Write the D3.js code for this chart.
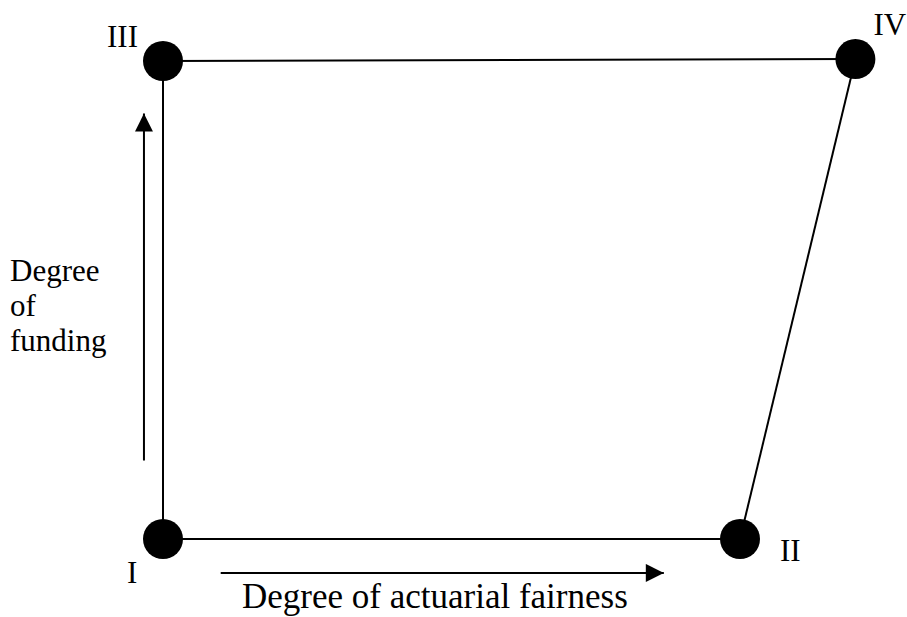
<!DOCTYPE html>
<html>
<head>
<meta charset="utf-8">
<script src="https://cdn.jsdelivr.net/npm/d3@7"></script>
<style>
  body { margin: 0; background: #fff; }
</style>
</head>
<body>
<div id="chart"></div>
<script>
// regimes, placed by degree of actuarial fairness (x) and degree of funding (y)
var nodeNames = ["I", "II", "III", "IV"];
var fairness = [0, 1, 0, 1.2];
var funding = [0, 0, 1, 1.004];
var edges = [["I", "II"], ["I", "III"], ["III", "IV"], ["II", "IV"]];

var axisTitles = ["Degree of actuarial fairness", "Degree of funding"];
var fundingTitleLines = ["Degree", "of", "funding"];

var width = 907, height = 617;
var serif = "'Liberation Serif', 'Times New Roman', Tinos, 'DejaVu Serif', serif";

var svg = d3.select("#chart")
  .append("svg")
  .attr("width", width)
  .attr("height", height)
  .style("font-family", serif);

var x = d3.scaleLinear().domain([0, 1]).range([163, 740]);
var y = d3.scaleLinear().domain([0, 1]).range([539, 61]);

var nodes = nodeNames.map(function(n, i) {
  return { name: n, fx: fairness[i], fy: funding[i] };
});
var byName = {};
nodes.forEach(function(d) { byName[d.name] = d; });

// arrowhead
svg.append("defs")
  .append("marker")
  .attr("id", "head")
  .attr("viewBox", "0 0 10 10")
  .attr("refX", 10)
  .attr("refY", 5)
  .attr("markerUnits", "userSpaceOnUse")
  .attr("markerWidth", 21)
  .attr("markerHeight", 18)
  .attr("orient", "auto")
  .append("path")
  .attr("d", "M0,0 L10,5 L0,10 Z")
  .attr("fill", "#000");

// edges
svg.selectAll("line.edge")
  .data(edges)
  .enter()
  .append("line")
  .attr("class", "edge")
  .attr("x1", function(d) { return x(byName[d[0]].fx); })
  .attr("y1", function(d) { return y(byName[d[0]].fy); })
  .attr("x2", function(d) { return x(byName[d[1]].fx); })
  .attr("y2", function(d) { return y(byName[d[1]].fy); })
  .attr("stroke", "#000")
  .attr("stroke-width", 2);

// direction arrows
svg.append("line")
  .attr("x1", x(0.1)).attr("y1", y(-0.071))
  .attr("x2", x(0.868)).attr("y2", y(-0.071))
  .attr("stroke", "#000")
  .attr("stroke-width", 2)
  .attr("marker-end", "url(#head)");

svg.append("line")
  .attr("x1", x(-0.033)).attr("y1", y(0.164))
  .attr("x2", x(-0.033)).attr("y2", y(0.89))
  .attr("stroke", "#000")
  .attr("stroke-width", 2)
  .attr("marker-end", "url(#head)");

// nodes
svg.selectAll("circle.node")
  .data(nodes)
  .enter()
  .append("circle")
  .attr("class", "node")
  .attr("cx", function(d) { return x(d.fx); })
  .attr("cy", function(d) { return y(d.fy); })
  .attr("r", 20)
  .attr("fill", "#000");

// node labels
var labelOffset = {
  "I": [-36, 44],
  "II": [40, 22],
  "III": [-56, -14],
  "IV": [18, -24]
};
svg.selectAll("text.label")
  .data(nodes)
  .enter()
  .append("text")
  .attr("class", "label")
  .attr("x", function(d) { return x(d.fx) + labelOffset[d.name][0]; })
  .attr("y", function(d) { return y(d.fy) + labelOffset[d.name][1]; })
  .attr("font-family", serif)
  .attr("font-size", 31)
  .text(function(d) { return d.name; });

// axis titles
svg.append("text")
  .attr("x", 242)
  .attr("y", 608)
  .attr("font-family", serif)
  .attr("font-size", 35)
  .text(axisTitles[0]);

svg.append("text")
  .attr("font-family", serif)
  .attr("font-size", 31)
  .selectAll("tspan")
  .data(fundingTitleLines)
  .enter()
  .append("tspan")
  .attr("x", 10)
  .attr("y", function(d, i) { return 281 + i * 35; })
  .text(function(d) { return d; });
</script>
</body>
</html>
